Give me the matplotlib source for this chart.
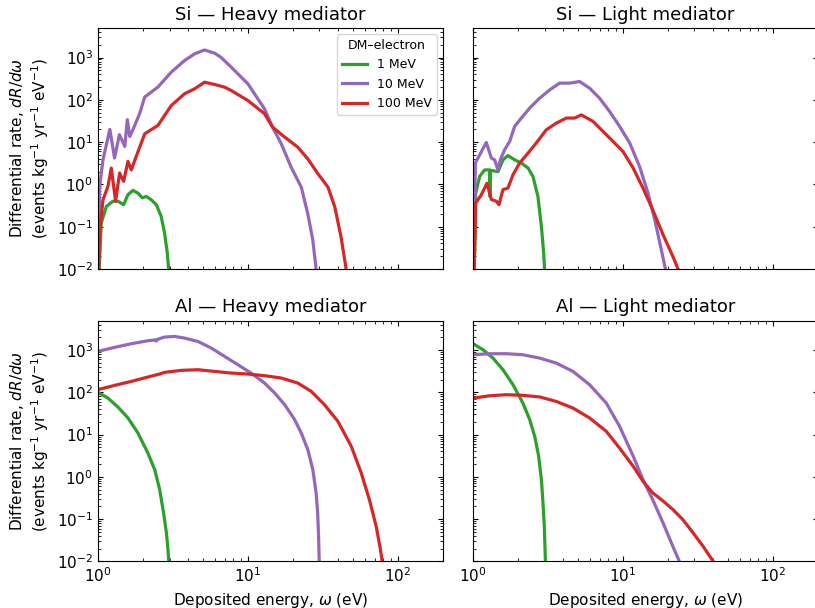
import numpy as np
import matplotlib
matplotlib.use("Agg")
import matplotlib.pyplot as plt
from matplotlib.ticker import LogLocator, NullFormatter

# Curves (energy in eV, rate in events/kg/yr/eV)
masses = ["1 MeV", "10 MeV", "100 MeV"]
colors = ["#2ca02c", "#9467bd", "#d62728"]
titles = ["Si — Heavy mediator", "Si — Light mediator",
          "Al — Heavy mediator", "Al — Light mediator"]

# Si, heavy mediator
si_heavy_1_x = [1.01, 1.052, 1.137, 1.259, 1.359, 1.483, 1.585, 1.71, 1.848, 1.975,
                2.10, 2.27, 2.45, 2.64, 2.78, 2.90, 2.96, 3.0]
si_heavy_1_y = [0.005, 0.122, 0.30, 0.40, 0.40, 0.33, 0.57, 0.72, 0.62, 0.48,
                0.52, 0.43, 0.33, 0.175, 0.071, 0.024, 0.01, 0.003]
si_heavy_10_x = [1.0, 1.026, 1.08, 1.20, 1.29, 1.39, 1.51, 1.57, 1.63, 1.71, 1.90,
                 2.05, 2.51, 3.08, 3.78, 4.41, 5.14, 6.0, 6.6, 7.74, 10.0, 12.9,
                 14.6, 16.7, 19.4, 22.7, 25.1, 27.1, 28.5, 29.2]
si_heavy_10_y = [0.005, 0.9, 3.8, 20, 4.2, 15, 7.9, 34, 13.6, 19.5, 48,
                 116, 200, 450, 849, 1221, 1510, 1265, 1019, 592, 239, 61,
                 22.6, 9.1, 2.57, 0.86, 0.2, 0.048, 0.01, 0.003]
si_heavy_100_x = [1.01, 1.026, 1.08, 1.166, 1.227, 1.311, 1.394, 1.483, 1.585, 1.668,
                  1.80, 2.05, 2.51, 3.08, 3.78, 4.41, 5.14, 6.0, 7.0, 7.74, 10.0,
                  12.9, 14.6, 17.6, 21.5, 25.1, 29.3, 34.2, 38.0, 41.8, 45.2, 46.5]
si_heavy_100_y = [0.005, 0.071, 0.43, 0.9, 2.43, 0.4, 1.85, 1.18, 3.5, 2.2,
                  4.6, 15.7, 24.8, 73, 139, 182, 261, 230, 199, 166, 96,
                  47, 22.6, 13.1, 7.6, 4.0, 1.79, 0.86, 0.29, 0.057, 0.01, 0.003]

# Si, light mediator
si_light_1_x = [1.015, 1.042, 1.108, 1.196, 1.291, 1.298, 1.311, 1.468, 1.585, 1.71,
                1.895, 2.10, 2.33, 2.51, 2.71, 2.86, 2.96, 3.0, 3.02]
si_light_1_y = [0.005, 0.62, 1.55, 2.2, 2.2, 0.52, 2.15, 2.0, 3.8, 4.8,
                3.8, 3.2, 2.43, 1.55, 0.52, 0.10, 0.024, 0.01, 0.003]
si_light_10_x = [1.015, 1.036, 1.108, 1.227, 1.325, 1.394, 1.468, 1.521, 1.626, 1.757,
                 1.895, 2.10, 2.39, 2.78, 3.25, 3.78, 4.41, 5.14, 5.99, 6.99, 8.15,
                 9.5, 11.1, 12.9, 14.7, 16.3, 18.0, 19.2, 19.8]
si_light_10_y = [0.005, 3.2, 5.0, 9.8, 4.2, 3.8, 2.2, 3.8, 6.6, 10.4,
                 23.5, 37, 64, 109, 172, 248, 248, 271, 189, 109, 53,
                 23.5, 9.5, 2.66, 0.62, 0.146, 0.029, 0.01, 0.003]
si_light_100_x = [1.015, 1.042, 1.137, 1.24, 1.325, 1.43, 1.49, 1.585, 1.71, 1.848,
                  2.047, 2.33, 2.64, 3.08, 3.59, 4.19, 4.76, 5.27, 6.31, 7.36, 8.58,
                  10.0, 11.7, 13.6, 15.8, 18.5, 21.5, 23.3, 24.0]
si_light_100_y = [0.005, 0.36, 0.57, 1.06, 0.44, 0.40, 0.33, 0.75, 0.82, 1.69,
                  3.2, 5.5, 9.5, 19.5, 28, 37, 37, 44, 31, 17.9, 10.4,
                  6.0, 2.43, 0.82, 0.25, 0.065, 0.02, 0.01, 0.004]

# Al, heavy mediator
al_heavy_1_x = [1.0, 1.166, 1.359, 1.585, 1.848, 2.15, 2.39, 2.58, 2.74, 2.86, 2.93,
                2.97, 3.0]
al_heavy_1_y = [100, 73, 45, 24.8, 10.9, 3.7, 1.49, 0.50, 0.14, 0.048, 0.019,
                0.01, 0.003]
al_heavy_10_x = [1.0, 1.29, 1.67, 2.15, 2.41, 2.45, 2.50, 2.78, 3.25, 3.78, 4.64, 5.7,
                 6.99, 8.58, 10.5, 12.9, 15.1, 17.6, 20.5, 22.7, 25.1, 27.1, 28.5,
                 29.2, 29.6, 29.9, 30.2]
al_heavy_10_y = [931, 1157, 1413, 1660, 1740, 1630, 1800, 2028, 2100, 1920, 1600, 1115,
                 708, 450, 286, 166, 96, 51, 22.6, 10.9, 4.4, 1.49, 0.42,
                 0.14, 0.04, 0.01, 0.003]
al_heavy_100_x = [1.0, 1.29, 1.67, 2.15, 2.58, 2.78, 3.59, 4.64, 5.99, 7.74, 10.0,
                  12.9, 16.7, 21.5, 26.4, 32.4, 39.8, 48.9, 57.0, 64.6, 71.7, 76.6,
                  78.6, 80.0]
al_heavy_100_y = [116, 146, 182, 230, 271, 297, 331, 343, 313, 286, 271,
                  248, 218, 166, 106, 51, 20.7, 5.3, 1.24, 0.29, 0.068, 0.019,
                  0.01, 0.003]

# Al, light mediator
al_light_1_x = [1.0, 1.166, 1.359, 1.585, 1.848, 2.15, 2.39, 2.58, 2.74, 2.86, 2.93,
                2.99, 3.04, 3.06]
al_light_1_y = [1413, 1019, 647, 343, 152, 56, 22.6, 9.1, 3.1, 0.86, 0.24,
                0.068, 0.01, 0.003]
al_light_10_x = [1.0, 1.29, 1.67, 2.15, 2.78, 3.59, 4.64, 5.99, 7.74, 9.5, 11.7,
                 13.6, 15.8, 18.5, 21.5, 23.8, 24.5]
al_light_10_y = [776, 819, 819, 776, 647, 493, 313, 152, 56, 15.7, 3.1,
                 0.86, 0.29, 0.082, 0.023, 0.01, 0.005]
al_light_100_x = [1.0, 1.29, 1.67, 2.15, 2.78, 3.59, 4.64, 5.99, 7.74, 9.5, 11.7,
                  13.6, 15.8, 18.5, 21.5, 25.1, 29.3, 34.2, 38.7, 40.8, 42.0]
al_light_100_y = [73, 83, 88, 85, 78, 61, 42.6, 24.8, 12.0, 4.8, 1.79,
                  0.79, 0.42, 0.27, 0.17, 0.098, 0.048, 0.023, 0.012, 0.009, 0.004]

panels = [
    [(si_heavy_1_x, si_heavy_1_y), (si_heavy_10_x, si_heavy_10_y), (si_heavy_100_x, si_heavy_100_y)],
    [(si_light_1_x, si_light_1_y), (si_light_10_x, si_light_10_y), (si_light_100_x, si_light_100_y)],
    [(al_heavy_1_x, al_heavy_1_y), (al_heavy_10_x, al_heavy_10_y), (al_heavy_100_x, al_heavy_100_y)],
    [(al_light_1_x, al_light_1_y), (al_light_10_x, al_light_10_y), (al_light_100_x, al_light_100_y)],
]


def main():
    fig, axes = plt.subplots(2, 2, figsize=(8.15, 6.08), dpi=100, sharex=True, sharey=True)
    fig.subplots_adjust(left=0.1202, right=1.0037, bottom=0.0765, top=0.954,
                        wspace=0.087, hspace=0.214)

    for ax, title, curves in zip(axes.flat, titles, panels):
        for (x, y), color, label in zip(curves, colors, masses):
            ax.plot(x, y, color=color, lw=2.3, label=label)
        ax.set_xscale("log")
        ax.set_yscale("log")
        ax.set_title(title, fontsize=13)
        ax.tick_params(which="both", direction="in", top=True, right=True, labelsize=11)

    ax0 = axes[0, 0]
    ax0.set_xlim(1, 200)
    ax0.set_ylim(1e-2, 5e3)
    ax0.yaxis.set_major_locator(LogLocator(base=10, numticks=20))
    ax0.yaxis.set_minor_locator(LogLocator(base=10, subs=np.arange(2, 10), numticks=20))
    ax0.yaxis.set_minor_formatter(NullFormatter())

    ylab = "Differential rate, $dR/d\\omega$\n(events kg$^{-1}$ yr$^{-1}$ eV$^{-1}$)"
    for ax in axes[:, 0]:
        ax.set_ylabel(ylab, fontsize=11)
    for ax in axes[1, :]:
        ax.set_xlabel("Deposited energy, $\\omega$ (eV)", fontsize=11)

    ax0.legend(title="DM–electron", loc="upper right", fontsize=9, title_fontsize=9)

    fig.savefig("out.png", dpi=100)
    plt.close(fig)


if __name__ == "__main__":
    main()
